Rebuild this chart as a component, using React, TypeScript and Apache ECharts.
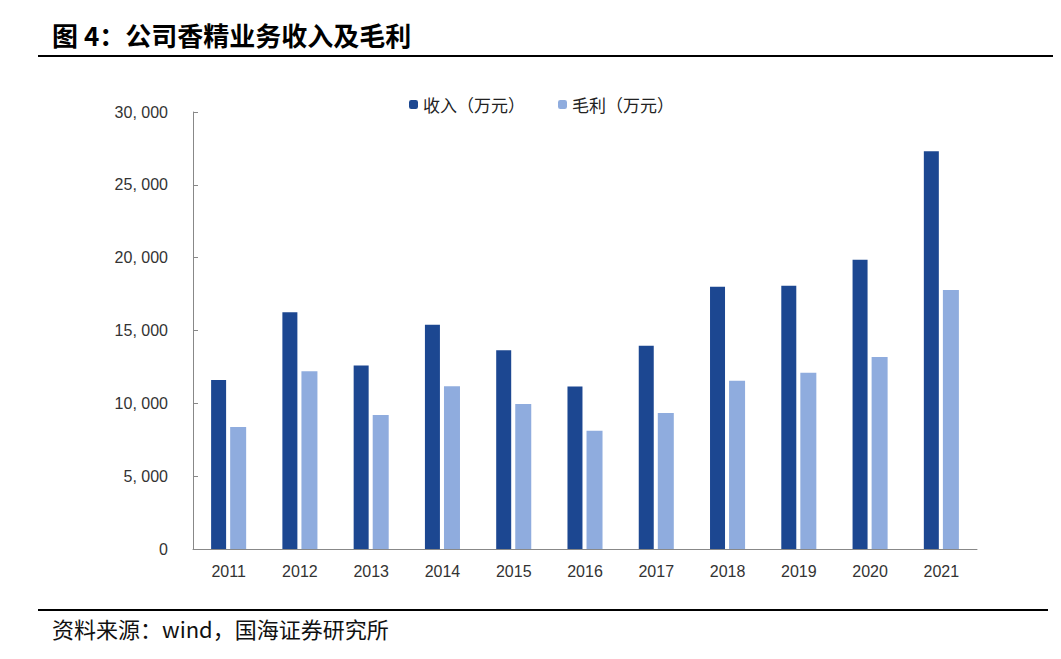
import React, { useEffect, useRef } from "react";
import * as echarts from "echarts";

const years = ["2011", "2012", "2013", "2014", "2015", "2016", "2017", "2018", "2019", "2020", "2021"];
const revenue = [11600, 16250, 12600, 15400, 13650, 11150, 13950, 18000, 18080, 19850, 27300];
const grossProfit = [8380, 12200, 9200, 11180, 9950, 8120, 9330, 11550, 12100, 13180, 17780];
const yTicks = [0, 5000, 10000, 15000, 20000, 25000, 30000];

const CJK = '"Noto Sans CJK SC", "Noto Sans", sans-serif';
const LATIN = '"Liberation Sans", Arial, sans-serif';

const App: React.FC = () => {
  const chartRef = useRef<HTMLDivElement>(null);

  useEffect(() => {
    if (!chartRef.current) return;
    const chart = echarts.init(chartRef.current, null, { renderer: "svg" });

    chart.setOption({
      animation: false,
      backgroundColor: "#fff",
      legend: {
        top: 91,
        left: 404,
        itemWidth: 9,
        itemHeight: 9,
        itemGap: 33,
        textStyle: { fontFamily: CJK, fontSize: 17, color: "#222" },
        data: ["收入（万元）", "毛利（万元）"],
      },
      grid: { left: 193, right: 84, top: 112, bottom: 110 },
      xAxis: {
        type: "category",
        data: years,
        axisLine: { lineStyle: { color: "#888" } },
        axisTick: { inside: true, length: 5, lineStyle: { color: "#888" } },
        axisLabel: { fontFamily: LATIN, fontSize: 16, color: "#333", margin: 14 },
      },
      yAxis: {
        type: "value",
        min: yTicks[0],
        max: yTicks[yTicks.length - 1],
        interval: 5000,
        axisLine: { show: true, lineStyle: { color: "#888" } },
        axisTick: { show: true, inside: true, length: 5, lineStyle: { color: "#888" } },
        splitLine: { show: false },
        axisLabel: {
          fontFamily: LATIN,
          fontSize: 16,
          color: "#333",
          margin: 25,
          formatter: (v: number) => v.toLocaleString("en-US").replace(",", ", "),
        },
      },
      series: [
        {
          name: "收入（万元）",
          type: "bar",
          data: revenue,
          barWidth: 15,
          barGap: "27%",
          itemStyle: { color: "#1C4791" },
        },
        {
          name: "毛利（万元）",
          type: "bar",
          data: grossProfit,
          barWidth: 16,
          itemStyle: { color: "#8FACDE" },
        },
      ],
      graphic: [
        {
          type: "text",
          left: 52,
          top: 21,
          style: {
            text: "图 4：公司香精业务收入及毛利",
            fontFamily: CJK,
            fontSize: 26,
            fontWeight: "bold",
            fill: "#000",
          },
        },
        {
          type: "line",
          shape: { x1: 38, y1: 56, x2: 1061, y2: 56 },
          style: { stroke: "#000", lineWidth: 2 },
        },
        {
          type: "line",
          shape: { x1: 38, y1: 610, x2: 1048, y2: 610 },
          style: { stroke: "#000", lineWidth: 2 },
        },
        {
          type: "text",
          left: 52,
          top: 617,
          style: {
            text: "资料来源：wind，国海证券研究所",
            fontFamily: CJK,
            fontSize: 22,
            fill: "#111",
          },
        },
      ],
    });

    return () => {
      chart.dispose();
    };
  }, []);

  return <div ref={chartRef} style={{ width: 1061, height: 659, margin: -8 }} />;
};

export default App;
